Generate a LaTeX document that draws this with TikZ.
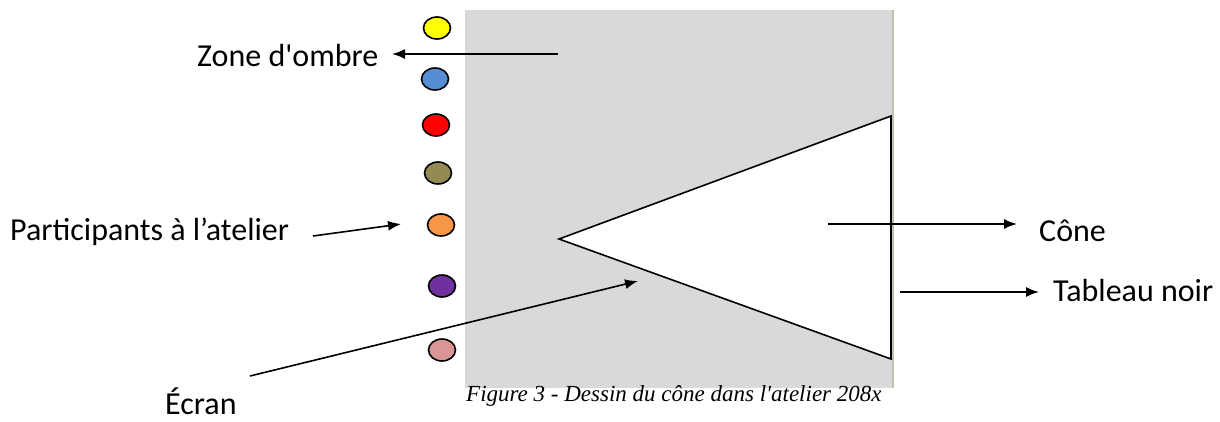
\documentclass[tikz,border=0pt]{standalone}
\usepackage{fontspec}
\setmainfont{Carlito}
\newfontfamily\capfont{Liberation Serif}
\newcommand\straightq{\XeTeXglyph\XeTeXcharglyph"0027\relax}
\usetikzlibrary{arrows.meta,shapes.geometric}
\definecolor{shadegray}{RGB}{217,217,217}
\definecolor{cyellow}{RGB}{255,255,0}
\definecolor{cblue}{RGB}{85,142,213}
\definecolor{cred}{RGB}{255,0,0}
\definecolor{colive}{RGB}{148,138,84}
\definecolor{corange}{RGB}{247,150,70}
\definecolor{cpurple}{RGB}{112,48,160}
\definecolor{cpink}{RGB}{217,150,148}
\definecolor{edgegreen}{RGB}{190,195,175}
\tikzset{
  x=1pt, y=-1pt,
  person/.style={ellipse, draw=black, line width=1.6pt, minimum width=27pt, minimum height=22pt, inner sep=0pt},
  pointer/.style={draw=black, line width=1.6pt, -{Latex[length=13pt,width=10pt]}},
  lbl/.style={font=\fontsize{32}{38}\selectfont, inner sep=0pt},
}
\begin{document}
\begin{tikzpicture}
\useasboundingbox (0,0) rectangle (1220,421);
% gray zone
\fill[fill=shadegray] (465,10) rectangle (892,388);
\draw[edgegreen, line width=1.2pt] (893,10) -- (893,388);
% cone
\draw[fill=white, line width=1.6pt, line join=miter] (559,239) coordinate (apex) -- (891,116) coordinate (ctop) -- (891,359) coordinate (cbot) -- cycle;
% participants
\node[person, fill=cyellow] (p1) at (437,28) {};
\node[person, fill=cblue] (p2) at (435,79) {};
\node[person, fill=cred] (p3) at (436,125) {};
\node[person, fill=colive] (p4) at (438,173) {};
\node[person, fill=corange] (p5) at (441,225) {};
\node[person, fill=cpurple] (p6) at (442,286) {};
\node[person, fill=cpink] (p7) at (442,350) {};
% labels
\node[lbl, anchor=base west] (zone) at (197,66) {Zone d\straightq ombre};
\node[lbl, anchor=west] (part) at (10,232) {Participants à l’atelier};
\node[lbl, anchor=base west] (ecran) at (165,414) {Écran};
\node[lbl, anchor=base west] (cone) at (1039,241) {Cône};
\node[lbl, anchor=base west] (tab) at (1053,301) {Tableau noir};
\node[anchor=west, inner sep=0pt, font=\capfont\itshape\fontsize{23}{26}\selectfont] (cap) at (466,396) {Figure 3 - Dessin du cône dans l\straightq atelier 208x};
% arrow endpoints
\coordinate (zs) at (558,54);
\coordinate (ze) at (392,54);
\coordinate (ps) at (313,236);
\coordinate (pe) at (401,224);
\coordinate (es) at (250,376);
\coordinate (ee) at (638,281);
\coordinate (cs) at (828,224);
\coordinate (ce) at (1017,224);
\coordinate (ts) at (900,292);
\coordinate (te) at (1039,292);
\draw[pointer] (zs) -- (ze);
\draw[pointer] (ps) -- (pe);
\draw[pointer] (es) -- (ee);
\draw[pointer] (cs) -- (ce);
\draw[pointer] (ts) -- (te);
\end{tikzpicture}
\end{document}
